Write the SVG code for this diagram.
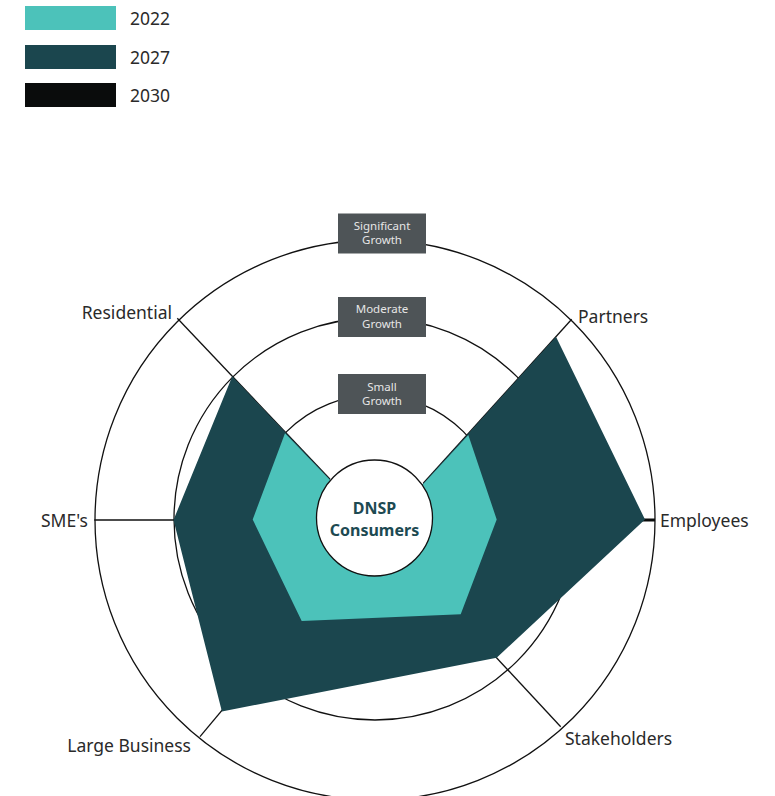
<svg xmlns="http://www.w3.org/2000/svg" width="775" height="796" viewBox="0 0 775 796">
<style>
.ring{fill:none;stroke:#111;stroke-width:1.3}
.axis{stroke:#111;stroke-width:1.3}
.lbl{font-family:"Noto Sans","Open Sans",sans-serif;font-size:17.5px;fill:#2a2a2a}
.leg{font-family:"Noto Sans","Open Sans",sans-serif;font-size:17.5px;fill:#2a2a2a}
.box{fill:#4e5457}
.boxt{font-family:"Noto Sans","Open Sans",sans-serif;font-size:11.5px;fill:#e6e6e6;text-anchor:middle}
.ctr{font-family:"Noto Sans","Open Sans",sans-serif;font-size:16px;font-weight:bold;fill:#1d4a52;text-anchor:middle}
</style>
<g id="legend">
<rect x="25" y="6" width="91" height="24" fill="#4cc2ba"/>
<text class="leg" x="130" y="25">2022</text>
<rect x="25" y="45" width="91" height="24" fill="#1b464e"/>
<text class="leg" x="130" y="64">2027</text>
<rect x="25" y="83" width="91" height="24" fill="#0a0c0c"/>
<text class="leg" x="130" y="102">2030</text>
</g>
<g id="rings">
<circle class="ring" cx="375" cy="520" r="280"/>
<circle class="ring" cx="375" cy="519" r="201"/>
<circle class="ring" cx="375" cy="520" r="125"/>
</g>
<g id="connectors">
<line class="axis" x1="432" y1="520" x2="655" y2="520"/>
<line class="axis" x1="423.3" y1="483.3" x2="571.7" y2="319.3"/>
<line class="axis" x1="330" y1="479.3" x2="177.3" y2="318.3"/>
<line class="axis" x1="94.3" y1="520" x2="317" y2="520"/>
<line class="axis" x1="200" y1="736.7" x2="330" y2="581"/>
<line class="axis" x1="560.7" y1="726.7" x2="440" y2="597"/>
</g>
<g id="series-2030">
<line x1="500" y1="520" x2="655" y2="520" stroke="#0a0c0c" stroke-width="3"/>
</g>
<g id="series-2027">
<polygon fill="#1b464e" points="556,336.8 645,519.5 496.7,657.7 221.9,711.5 173.5,520 232.3,376.3 379.6,531.6"/>
</g>
<g id="series-2022">
<polygon fill="#4cc2ba" points="468.3,435 496.7,519.5 460.7,614.3 301.7,621 252.7,519.5 285,433.3 379.6,531.6"/>
</g>
<g id="center">
<circle cx="374.5" cy="518" r="58" fill="#fff" stroke="#111" stroke-width="1.3"/>
<text class="ctr" x="374.5" y="514">DNSP</text>
<text class="ctr" x="374.5" y="535.5">Consumers</text>
</g>
<g id="label-significant">
<rect class="box" x="338" y="213.5" width="88" height="40"/>
<text class="boxt" x="382" y="229.5">Significant</text>
<text class="boxt" x="382" y="244">Growth</text>
</g>
<g id="label-moderate">
<rect class="box" x="338" y="297" width="88" height="40"/>
<text class="boxt" x="382" y="313">Moderate</text>
<text class="boxt" x="382" y="327.5">Growth</text>
</g>
<g id="label-small">
<rect class="box" x="338" y="374" width="88" height="40"/>
<text class="boxt" x="382" y="390.5">Small</text>
<text class="boxt" x="382" y="405">Growth</text>
</g>
<g id="axis-labels">
<text class="lbl" x="578" y="323">Partners</text>
<text class="lbl" x="660" y="527">Employees</text>
<text class="lbl" x="172" y="319" text-anchor="end">Residential</text>
<text class="lbl" x="88" y="527" text-anchor="end">SME's</text>
<text class="lbl" x="191" y="752" text-anchor="end">Large Business</text>
<text class="lbl" x="565" y="745">Stakeholders</text>
</g>
</svg>
